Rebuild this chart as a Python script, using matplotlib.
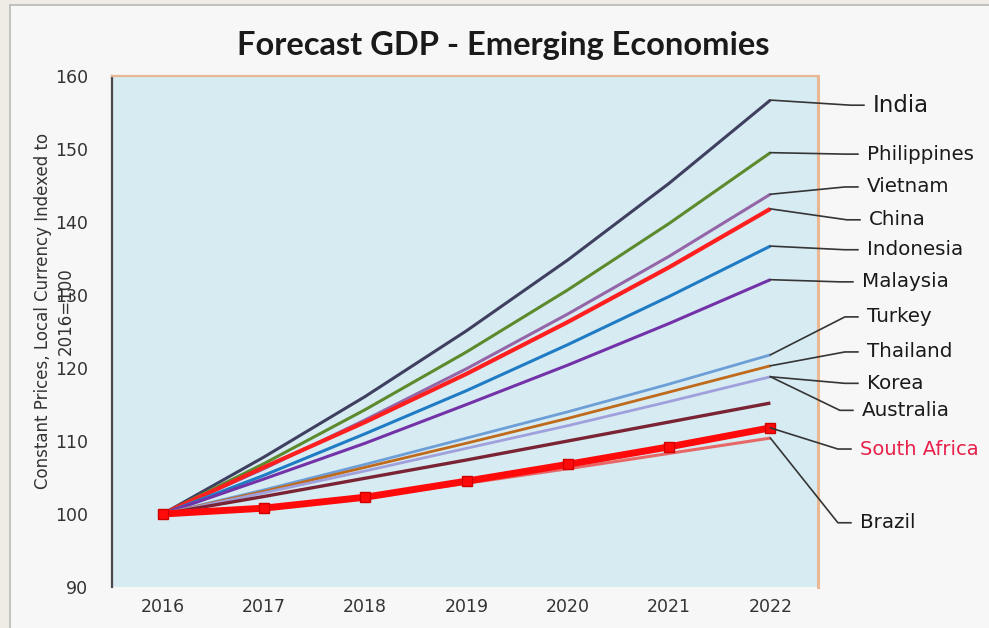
import matplotlib
matplotlib.use("Agg")
import matplotlib.pyplot as plt
from matplotlib.patches import Rectangle

years = [2016, 2017, 2018, 2019, 2020, 2021, 2022]

countries = ["India", "Philippines", "Vietnam", "China", "Indonesia", "Malaysia",
             "Turkey", "Thailand", "Korea", "Australia", "Brazil", "South Africa"]

india       = [100, 107.8, 116.1, 125.1, 134.8, 145.3, 156.7]
philippines = [100, 106.9, 114.3, 122.2, 130.7, 139.8, 149.5]
vietnam     = [100, 106.2, 112.9, 119.9, 127.4, 135.3, 143.8]
china       = [100, 106.4, 112.6, 119.2, 126.3, 133.8, 141.8]
indonesia   = [100, 105.3, 111.0, 116.9, 123.2, 129.8, 136.7]
malaysia    = [100, 104.8, 109.7, 115.0, 120.4, 126.1, 132.1]
turkey      = [100, 103.3, 106.8, 110.4, 114.0, 117.8, 121.8]
thailand    = [100, 103.1, 106.4, 109.7, 113.1, 116.7, 120.3]
korea       = [100, 102.9, 105.9, 109.0, 112.1, 115.4, 118.8]
australia   = [100, 102.4, 104.9, 107.4, 110.0, 112.6, 115.2]
brazil      = [100, 100.7, 102.3, 104.2, 106.2, 108.3, 110.4]
south_africa = [100, 100.8, 102.3, 104.5, 106.8, 109.2, 111.8]

series = {
    "India": india, "Philippines": philippines, "Vietnam": vietnam, "China": china,
    "Indonesia": indonesia, "Malaysia": malaysia, "Turkey": turkey,
    "Thailand": thailand, "Korea": korea, "Australia": australia,
    "Brazil": brazil, "South Africa": south_africa,
}

styles = {
    "India":       dict(color="#3f3f5f", lw=2.2),
    "Philippines": dict(color="#5c8a2c", lw=2.2),
    "Vietnam":     dict(color="#9466a8", lw=2.2),
    "China":       dict(color="#ff1f1f", lw=3.0),
    "Indonesia":   dict(color="#1f7cc4", lw=2.2),
    "Malaysia":    dict(color="#7432a8", lw=2.2),
    "Turkey":      dict(color="#6d9fd6", lw=2.0),
    "Thailand":    dict(color="#c06a1c", lw=2.0),
    "Korea":       dict(color="#a0a0dc", lw=2.0),
    "Australia":   dict(color="#7a2334", lw=2.4),
    "Brazil":      dict(color="#e86868", lw=2.2),
    "South Africa": dict(color="#ff0a0a", lw=5.0, marker="s", ms=7,
                         markeredgecolor="#d00000"),
}

# label layout: text, text y (data units), text x (pixels), leader start series
label_text = ["India", "Philippines", "Vietnam", "China", "Indonesia", "Malaysia",
              "Turkey", "Thailand", "Korea", "Australia", "South Africa", "Brazil"]
label_y    = [156.0, 149.3, 144.8, 140.3, 136.2, 131.8,
              127.0, 122.2, 117.9, 114.2, 108.9, 98.8]
label_px   = [873, 867, 867, 869, 867, 862, 867, 867, 867, 862, 860, 860]
label_fs   = [16.5, 14.3, 14.3, 14.3, 14.3, 14.3, 14.3, 14.3, 14.3, 14.3, 14.0, 14.3]
label_from = ["India", "Philippines", "Vietnam", "China", "Indonesia", "Malaysia",
              "Turkey", "Thailand", "Korea", "Korea", "South Africa", "Brazil"]

fig = plt.figure(figsize=(9.89, 6.28), dpi=100, facecolor="#efece6")
bg = Rectangle((10/989, -0.01), 1.0, 1 - 5/628 + 0.01, transform=fig.transFigure,
               facecolor="#f7f7f7", edgecolor="#b8b8b8", lw=1.2, zorder=-5)
fig.add_artist(bg)

ax = fig.add_axes([112/989, 1 - 587/628, (818 - 112)/989, (587 - 76)/628])
ax.set_zorder(2)
ax.set_facecolor("#d7ebf3")

for name in countries:
    st = dict(styles[name])
    ax.plot(years, series[name], solid_capstyle="butt", zorder=3, **st)

ax.set_xlim(2015.5, 2022.47)
ax.set_ylim(90, 160)
ax.set_xticks(years)
ax.set_yticks(range(90, 161, 10))
ax.tick_params(axis="both", length=0, labelsize=12.5, labelcolor="#333333")
ax.tick_params(axis="y", pad=17)
ax.tick_params(axis="x", pad=8)
for lab in ax.get_xticklabels() + ax.get_yticklabels():
    lab.set_fontfamily("DejaVu Sans")

ax.spines["bottom"].set_visible(False)
ax.spines["left"].set_color("#4a4a4a")
ax.spines["left"].set_linewidth(1.6)
ax.spines["top"].set_color("#e9b892")
ax.spines["top"].set_linewidth(1.6)
ax.spines["right"].set_color("#e9b892")
ax.spines["right"].set_linewidth(2.2)

ax.set_ylabel("Constant Prices, Local Currency Indexed to\n2016=100",
              fontsize=12, family="DejaVu Sans", color="#333333", linespacing=1.35)
ax.yaxis.set_label_coords(-0.053, 0.54)

fig.text(503/989, 1 - 46/628, "Forecast GDP - Emerging Economies", ha="center", va="center",
         fontsize=23.5, fontweight="bold", family="Lato", color="#1a1a1a")

px_per_year = 706 / (2022.47 - 2015.5)
x_end = years[-1]
for txt, ly, lpx, fs, src in zip(label_text, label_y, label_px, label_fs, label_from):
    vy = series[src][-1]
    tx = x_end + (lpx - 770.5) / px_per_year
    lx1 = x_end + (lpx - 9 - 770.5) / px_per_year
    lx0 = x_end + (lpx - 22 - 770.5) / px_per_year
    ax.plot([x_end, lx0, lx1], [vy, ly, ly], color="#353535", lw=1.2,
            clip_on=False, zorder=4)
    color = "#e8204a" if txt == "South Africa" else "#1a1a1a"
    ax.text(tx, ly, txt, ha="left", va="center", fontsize=fs, color=color,
            family="DejaVu Sans", clip_on=False)

fig.savefig("out.png", dpi=100, facecolor=fig.get_facecolor())
